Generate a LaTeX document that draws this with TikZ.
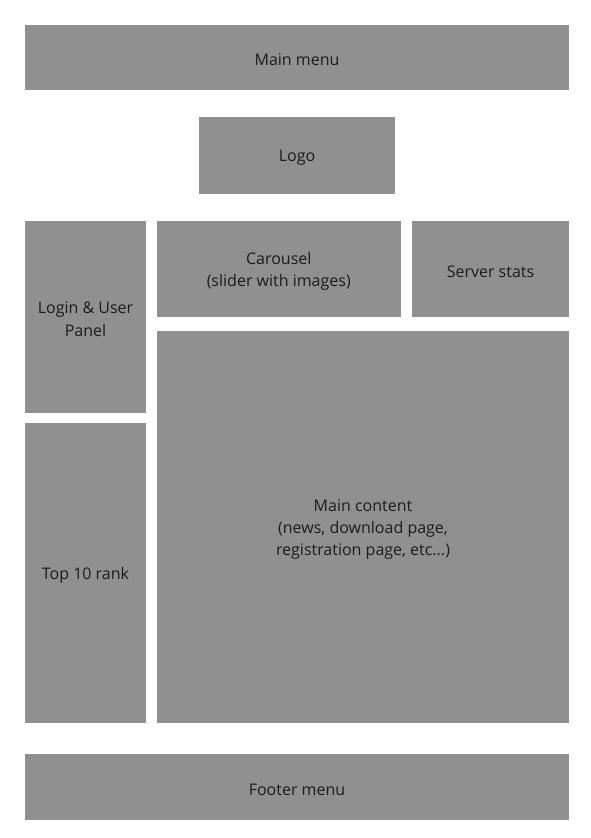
\documentclass[tikz,border=0pt]{standalone}
\usepackage{fontspec}
\setmainfont{Open Sans}
\usepackage{xcolor}
\usepackage{tikz}
\usetikzlibrary{positioning}

\definecolor{boxgray}{HTML}{909090}
\definecolor{labeldark}{HTML}{1c1c1c}
\newcommand{\px}{0.75pt}

\begin{document}
\begin{tikzpicture}[x=0.75pt, y=-0.75pt,
  block/.style={fill=boxgray, inner sep=0pt},
  blocktext/.style={text=labeldark, align=center, inner sep=0pt, yshift=-2.5*\px,
                    font=\fontsize{12}{16.8}\selectfont}]
\useasboundingbox (0,0) rectangle (591,838);
% header
\node[block, minimum width=544*\px, minimum height=65*\px] (mainmenu) at (297,57.5) {};
\node[block, minimum width=196*\px, minimum height=77*\px] (logo) at (297,155.5) {};
% left column
\node[block, minimum width=121*\px, minimum height=191.5*\px] (login) at (85.5,316.75) {};
\node[block, minimum width=121*\px, minimum height=300.5*\px] (topten) at (85.5,572.75) {};
% right side
\node[block, minimum width=243.5*\px, minimum height=96*\px] (carousel) at (278.75,269) {};
\node[block, minimum width=157*\px, minimum height=96*\px] (serverstats) at (490.5,269) {};
\node[block, minimum width=412*\px, minimum height=392*\px] (maincontent) at (363,527) {};
% footer
\node[block, minimum width=544*\px, minimum height=66*\px] (footermenu) at (297,787) {};

% labels
\node[blocktext] (mainmenu-t) at (mainmenu.center) {Main menu};
\node[blocktext] (logo-t) at (logo.center) {Logo};
\node[blocktext] (login-t) at (login.center) {Login \& User\\Panel};
\node[blocktext] (topten-t) at (topten.center) {Top 10 rank};
\node[blocktext] (carousel-t) at (carousel.center) {Carousel\\(slider with images)};
\node[blocktext] (serverstats-t) at (serverstats.center) {Server stats};
\node[blocktext] (maincontent-t) at (maincontent.center) {Main content\\(news, download page,\\registration page, etc...)};
\node[blocktext] (footermenu-t) at (footermenu.center) {Footer menu};
\end{tikzpicture}
\end{document}
